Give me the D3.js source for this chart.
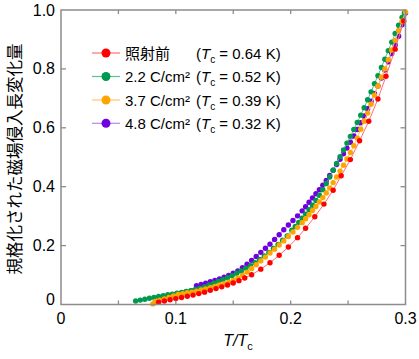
<!DOCTYPE html>
<html><head><meta charset="utf-8">
<script src="https://cdn.jsdelivr.net/npm/d3@7"></script>
<style>body{margin:0;background:#fff}svg{display:block}</style>
</head><body>
<svg id="c" width="419" height="359"></svg>
<script>
// ---- data (T/Tc, normalized penetration depth change) ----
const seriesNames = ["照射前", "2.2 C/cm²", "3.7 C/cm²", "4.8 C/cm²"];
const seriesTc = ["0.64", "0.52", "0.39", "0.32"];
const xTickValues = [0, 0.05, 0.1, 0.15, 0.2, 0.25, 0.3];
const xTickLabels = ["0", "0.1", "0.2", "0.3"];
const yTickValues = [0, 0.2, 0.4, 0.6, 0.8, 1.0];
const yTickLabels = ["0", "0.2", "0.4", "0.6", "0.8", "1.0"];

const redT = [0.085,0.090,0.095,0.100,0.105,0.110,0.115,0.120,0.125,0.130,0.135,0.140,0.145,0.150,0.155,0.160,0.166,0.174,0.182,0.190,0.198,0.206,0.213,0.221,0.229,0.237,0.244,0.252,0.260,0.268,0.276,0.283,0.291,0.2985];
const redV = [0.008,0.012,0.016,0.020,0.024,0.028,0.032,0.037,0.042,0.048,0.054,0.060,0.066,0.073,0.081,0.090,0.101,0.120,0.142,0.167,0.195,0.227,0.259,0.298,0.341,0.388,0.437,0.492,0.556,0.622,0.698,0.775,0.867,0.963];

const greenT = [0.065,0.069,0.073,0.077,0.081,0.085,0.089,0.093,0.097,0.101,0.105,0.109,0.113,0.117,0.121,0.125,0.129,0.133,0.137,0.141,0.145,0.149,0.153,0.157,0.161,0.165,0.169,0.173,0.177,0.181,0.185,0.189,0.193,0.197,0.201,0.204,0.207,0.210,0.213,0.216,0.219,0.222,0.225,0.228,0.231,0.234,0.237,0.240,0.243,0.246,0.249,0.252,0.255,0.258,0.261,0.264,0.267,0.270,0.273,0.276,0.279,0.282,0.285,0.288,0.291,0.294,0.297,0.299];
const greenV = [0.012,0.015,0.018,0.021,0.024,0.027,0.030,0.033,0.035,0.038,0.041,0.044,0.047,0.051,0.055,0.060,0.066,0.072,0.078,0.084,0.091,0.098,0.106,0.114,0.123,0.132,0.142,0.153,0.165,0.177,0.190,0.204,0.218,0.233,0.252,0.265,0.279,0.293,0.307,0.322,0.337,0.353,0.371,0.390,0.411,0.433,0.456,0.479,0.502,0.525,0.548,0.571,0.594,0.618,0.643,0.668,0.695,0.722,0.750,0.777,0.805,0.833,0.862,0.891,0.920,0.948,0.975,0.990];

const orangeT = [0.080,0.082,0.086,0.090,0.094,0.098,0.102,0.106,0.110,0.114,0.118,0.122,0.126,0.130,0.134,0.138,0.142,0.146,0.150,0.154,0.158,0.162,0.166,0.170,0.174,0.178,0.182,0.186,0.190,0.194,0.198,0.202,0.206,0.210,0.213,0.216,0.219,0.222,0.225,0.228,0.231,0.234,0.237,0.240,0.243,0.246,0.249,0.252,0.255,0.258,0.261,0.264,0.267,0.270,0.273,0.276,0.279,0.282,0.285,0.288,0.291,0.294,0.297,0.300];
const orangeV = [0.002,0.010,0.015,0.019,0.024,0.029,0.034,0.037,0.040,0.042,0.045,0.049,0.053,0.057,0.061,0.066,0.071,0.076,0.082,0.090,0.099,0.110,0.122,0.135,0.148,0.161,0.175,0.188,0.202,0.216,0.231,0.246,0.262,0.278,0.291,0.305,0.319,0.333,0.348,0.363,0.379,0.396,0.414,0.433,0.453,0.473,0.494,0.516,0.539,0.565,0.595,0.622,0.650,0.680,0.711,0.742,0.772,0.800,0.831,0.864,0.897,0.930,0.962,0.993];

const purpleT = [0.086,0.090,0.094,0.098,0.102,0.106,0.110,0.114,0.118,0.122,0.126,0.130,0.134,0.138,0.142,0.146,0.150,0.154,0.158,0.162,0.166,0.170,0.174,0.178,0.182,0.186,0.190,0.194,0.198,0.202,0.206,0.210,0.213,0.216,0.219,0.222,0.225,0.228,0.231,0.234,0.237,0.240,0.243,0.246,0.249,0.252,0.255,0.258,0.261,0.264,0.267,0.270,0.273,0.276,0.279,0.282,0.285,0.288,0.291,0.294,0.297,0.300];
const purpleV = [0.024,0.027,0.030,0.033,0.036,0.039,0.042,0.046,0.064,0.068,0.072,0.077,0.082,0.087,0.093,0.099,0.106,0.114,0.125,0.137,0.150,0.163,0.177,0.191,0.205,0.221,0.237,0.254,0.270,0.285,0.301,0.318,0.332,0.347,0.362,0.376,0.390,0.405,0.421,0.438,0.456,0.475,0.493,0.512,0.531,0.551,0.572,0.594,0.617,0.640,0.665,0.690,0.716,0.742,0.769,0.796,0.824,0.852,0.881,0.911,0.950,0.990];

const colors = ["#ff0000", "#00994d", "#ffa500", "#7000e0"];
const lineColors = ["#ff7070", "#5cc28f", "#ffc860", "#b58af0"];

const series = [
  {name: seriesNames[0], tc: seriesTc[0], T: redT, V: redV, c: colors[0], lc: lineColors[0]},
  {name: seriesNames[1], tc: seriesTc[1], T: greenT, V: greenV, c: colors[1], lc: lineColors[1]},
  {name: seriesNames[2], tc: seriesTc[2], T: orangeT, V: orangeV, c: colors[2], lc: lineColors[2]},
  {name: seriesNames[3], tc: seriesTc[3], T: purpleT, V: purpleV, c: colors[3], lc: lineColors[3]}
];

const svg = d3.select("#c");
const x = d3.scaleLinear().domain([0, 0.3]).range([61, 405.5]);
const y = d3.scaleLinear().domain([0, 1]).range([304.5, 10]);
const font = "'Liberation Sans', Arial, sans-serif";
const axisColor = "#8c8c8c";

// data: purple bottom, then green, orange, red on top
const drawOrder = [3, 1, 2, 0];
const line = d3.line().x(d => x(d[0])).y(d => y(d[1]));
drawOrder.forEach(i => {
  const s = series[i];
  const pts = s.T.map((t, k) => [t, s.V[k]]);
  const g = svg.append("g");
  g.append("path").attr("d", line(pts)).attr("fill", "none")
    .attr("stroke", s.lc).attr("stroke-width", 1);
  g.selectAll("circle").data(pts).join("circle")
    .attr("cx", d => x(d[0])).attr("cy", d => y(d[1])).attr("r", 2.7)
    .attr("fill", s.c);
});

// frame
svg.append("rect").attr("x", x(0)).attr("y", y(1))
  .attr("width", x(0.3) - x(0)).attr("height", y(0) - y(1))
  .attr("fill", "none").attr("stroke", axisColor).attr("stroke-width", 1.5);

// x ticks (inward, top & bottom)
xTickValues.slice(1, -1).forEach(v => {
  svg.append("line").attr("x1", x(v)).attr("x2", x(v)).attr("y1", y(0)).attr("y2", y(0) - 4)
    .attr("stroke", axisColor).attr("stroke-width", 1.3);
  svg.append("line").attr("x1", x(v)).attr("x2", x(v)).attr("y1", y(1)).attr("y2", y(1) + 4)
    .attr("stroke", axisColor).attr("stroke-width", 1.3);
});
// y ticks (inward, left & right)
yTickValues.slice(1, -1).forEach(v => {
  svg.append("line").attr("x1", x(0)).attr("x2", x(0) + 5).attr("y1", y(v)).attr("y2", y(v))
    .attr("stroke", axisColor).attr("stroke-width", 1.3);
  svg.append("line").attr("x1", x(0.3)).attr("x2", x(0.3) - 5).attr("y1", y(v)).attr("y2", y(v))
    .attr("stroke", axisColor).attr("stroke-width", 1.3);
});

// x tick labels
[0, 0.1, 0.2, 0.3].forEach((v, i) => {
  svg.append("text").attr("x", x(v)).attr("y", 324).attr("text-anchor", "middle")
    .attr("font-family", font).attr("font-size", 16).attr("fill", "#000").text(xTickLabels[i]);
});
// y tick labels
yTickValues.forEach((v, i) => {
  svg.append("text").attr("x", 55).attr("y", y(v) + (v === 0 ? 0 : 5.5)).attr("text-anchor", "end")
    .attr("font-family", font).attr("font-size", 16).attr("fill", "#000").text(yTickLabels[i]);
});

// x axis title
const xt = svg.append("text").attr("x", 238).attr("y", 346).attr("text-anchor", "middle")
  .attr("font-family", font).attr("font-size", 16).attr("fill", "#000");
xt.append("tspan").attr("font-style", "italic").text("T/T");
xt.append("tspan").attr("font-size", 11).attr("dy", 4).text("c");

// y axis title
svg.append("text").attr("transform", "translate(20.5,159) rotate(-90)").attr("text-anchor", "middle")
  .attr("font-family", "'Noto Sans CJK JP', sans-serif").attr("font-size", 16.5).attr("fill", "#000")
  .text("規格化された磁場侵入長変化量");

// legend
const legY = [53, 76.5, 100, 123.3];
series.forEach((s, i) => {
  const yy = legY[i];
  svg.append("line").attr("x1", 92).attr("x2", 120).attr("y1", yy).attr("y2", yy)
    .attr("stroke", s.lc).attr("stroke-width", 1.2);
  svg.append("circle").attr("cx", 106).attr("cy", yy).attr("r", 4.5).attr("fill", s.c);
  svg.append("text").attr("x", 125).attr("y", yy + 5.5)
    .attr("font-family", i === 0 ? "'Noto Sans CJK JP', sans-serif" : font)
    .attr("font-size", 15).attr("fill", "#000").text(s.name);
  const t = svg.append("text").attr("x", 196).attr("y", yy + 5.5)
    .attr("font-family", font).attr("font-size", 15).attr("fill", "#000");
  t.append("tspan").text("(");
  t.append("tspan").attr("font-style", "italic").text("T");
  t.append("tspan").attr("font-size", 10).attr("dy", 4).text("c");
  t.append("tspan").attr("dy", -4).text(" = " + s.tc + " K)");
});
</script>
</body></html>
